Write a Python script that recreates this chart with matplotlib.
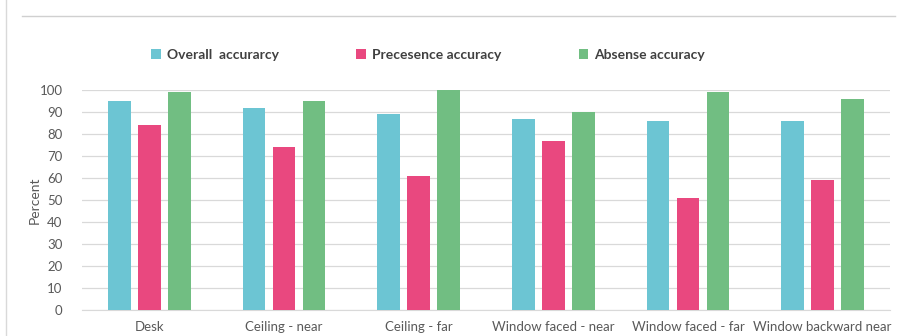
import numpy as np
import matplotlib
matplotlib.use("Agg")
import matplotlib.pyplot as plt
from matplotlib.lines import Line2D

categories = ["Desk", "Ceiling - near", "Ceiling - far", "Window faced - near",
              "Window faced - far", "Window backward near"]
overall = [95, 92, 89, 87, 86, 86]
presence = [84, 74, 61, 77, 51, 59]
absence = [99, 95, 100, 90, 99, 96]
series_names = ["Overall  accurarcy", "Precesence accuracy", "Absense accuracy"]
colors = ["#6CC5D3", "#E9487F", "#71BE82"]
yticks = list(range(0, 101, 10))

plt.rcParams["font.family"] = ["Lato", "DejaVu Sans"]

fig = plt.figure(figsize=(9.02, 3.36), dpi=100)
ax = fig.add_axes([82 / 902, 1 - 310 / 336, 808 / 902, 220 / 336])

x = np.arange(len(categories))
w = 0.17
step = 0.223
for i, (vals, name, c) in enumerate(zip([overall, presence, absence], series_names, colors)):
    ax.bar(x + (i - 1) * step, vals, width=w, color=c, label=name, zorder=3)

ax.set_xlim(-0.5, len(categories) - 0.5)
ax.set_ylim(0, 100)
ax.set_yticks(yticks)
ax.set_xticks(x)
ax.set_xticklabels(categories)
ax.tick_params(axis="both", length=0, labelsize=9.5, colors="#595959")
ax.tick_params(axis="y", pad=14)
ax.tick_params(axis="x", pad=8)
ax.grid(axis="y", color="#D9D9D9", linewidth=0.9, zorder=0)
for s in ["top", "right", "left"]:
    ax.spines[s].set_visible(False)
ax.spines["bottom"].set_color("#D9D9D9")
ax.set_ylabel("Percent", fontsize=10, color="#595959", labelpad=-1)

leg = ax.legend(loc="center", bbox_to_anchor=(428 / 902, 1 - 55 / 336),
                bbox_transform=fig.transFigure, ncol=3, frameon=False,
                handlelength=0.7, handleheight=0.7, handletextpad=0.4,
                columnspacing=5.6, prop={"weight": "bold", "size": 10})
for t in leg.get_texts():
    t.set_color("#404040")

# chart frame lines
fig.add_artist(Line2D([22 / 902, 895 / 902], [1 - 16 / 336] * 2,
                      transform=fig.transFigure, color="#D0D0D0", linewidth=1))
fig.add_artist(Line2D([6 / 902] * 2, [0, 1], transform=fig.transFigure,
                      color="#D9D9D9", linewidth=1))

fig.savefig("out.png", dpi=100)
